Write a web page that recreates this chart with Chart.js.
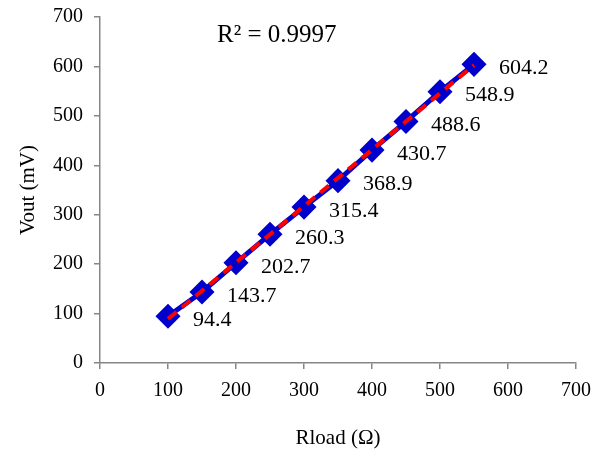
<!DOCTYPE html>
<html>
<head>
<meta charset="utf-8">
<script src="https://cdn.jsdelivr.net/npm/chart.js@4.4.0/dist/chart.umd.min.js"></script>
<style>
  html, body { margin:0; padding:0; background:#fff; }
  #wrap { width:608px; height:459px; }
</style>
</head>
<body>
<div id="wrap"><canvas id="chart" width="608" height="459"></canvas></div>
<script>
// data
var rload = [100, 150, 200, 250, 300, 350, 400, 450, 500, 550];
var vout = [94.4, 143.7, 202.7, 260.3, 315.4, 368.9, 430.7, 488.6, 548.9, 604.2];
var tickVals = [0, 100, 200, 300, 400, 500, 600, 700];
var r2Text = 'R² = 0.9997';

var pts = rload.map(function (x, i) { return { x: x, y: vout[i] }; });

// linear trendline (least squares)
var n = rload.length, sx = 0, sy = 0, sxy = 0, sxx = 0;
for (var i = 0; i < n; i++) {
  sx += rload[i]; sy += vout[i];
  sxy += rload[i] * vout[i]; sxx += rload[i] * rload[i];
}
var slope = (n * sxy - sx * sy) / (n * sxx - sx * sx);
var icpt = (sy - slope * sx) / n;
var trend = [rload[0], rload[n - 1]].map(function (x) { return { x: x, y: icpt + slope * x }; });

var FONT = "'Liberation Serif', 'Times New Roman', serif";

// labels next to each point + R² text
var labelPlugin = {
  id: 'labels',
  afterDatasetsDraw: function (chart) {
    var ctx = chart.ctx, xs = chart.scales.x, ys = chart.scales.y;
    ctx.save();
    ctx.fillStyle = '#000';
    ctx.font = '22px ' + FONT;
    ctx.textAlign = 'left';
    ctx.textBaseline = 'middle';
    pts.forEach(function (p) {
      ctx.fillText(p.y.toFixed(1), xs.getPixelForValue(p.x) + 25, ys.getPixelForValue(p.y) + 4);
    });
    ctx.font = '25px ' + FONT;
    ctx.fillText(r2Text, chart.chartArea.left + 117, chart.chartArea.top + 18);
    ctx.restore();
  }
};

function axis(pad) {
  return {
    type: 'linear',
    min: 0, max: 700,
    border: { color: '#868686', width: 1.5 },
    grid: { drawOnChartArea: false, color: '#868686', tickLength: 6, lineWidth: 1.5 },
    ticks: {
      stepSize: 100, color: '#000', padding: pad,
      font: { family: FONT, size: 20 }
    }
  };
}

new Chart(document.getElementById('chart'), {
  type: 'scatter',
  data: {
    datasets: [
      {
        label: 'Vout',
        data: pts,
        showLine: true,
        borderColor: '#0000CC',
        backgroundColor: '#0000CC',
        borderWidth: 5,
        pointStyle: 'rectRot',
        pointRadius: 9,
        pointHoverRadius: 9,
        order: 2
      },
      {
        label: 'trend',
        data: trend,
        showLine: true,
        borderColor: '#FF0000',
        borderWidth: 4,
        borderDash: [11, 7],
        pointRadius: 0,
        order: 1
      }
    ]
  },
  options: {
    responsive: false,
    animation: false,
    layout: { padding: { left: 0, right: 32, top: 17, bottom: 0 } },
    plugins: { legend: { display: false }, tooltip: { enabled: false } },
    scales: {
      x: Object.assign(axis(10), {
        title: { display: true, text: 'Rload (Ω)', color: '#000', font: { family: FONT, size: 21 }, padding: { top: 7, bottom: 8 } },
        afterFit: function (s) { s.height = 96; }
      }),
      y: Object.assign(axis(11), {
        title: { display: true, text: 'Vout (mV)', color: '#000', font: { family: FONT, size: 21 }, padding: { top: 16, bottom: 0 } },
        afterFit: function (s) { s.width = 100; s.paddingTop = 5; s.paddingBottom = 5; }
      })
    }
  },
  plugins: [labelPlugin]
});
</script>
</body>
</html>
